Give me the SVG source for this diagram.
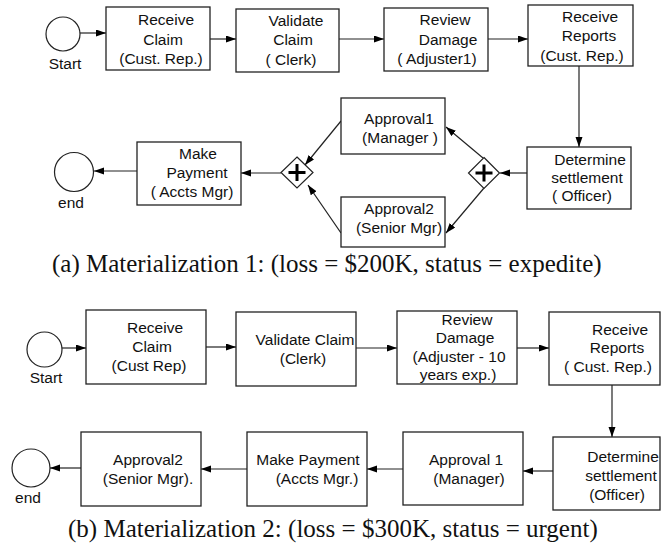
<svg xmlns="http://www.w3.org/2000/svg" width="662" height="546" viewBox="0 0 662 546">
<style>
.box{fill:#fff;stroke:#222;stroke-width:1.3}
.ev{fill:#fff;stroke:#222;stroke-width:1.2}
.gw{fill:#fff;stroke:#222;stroke-width:1.2}
.plus{stroke:#000;stroke-width:3;fill:none}
.t{font-family:"Liberation Sans",Arial,sans-serif;font-size:15.5px;fill:#111;text-anchor:middle}
.cap{font-family:"Liberation Serif","Times New Roman",serif;font-size:25px;fill:#111}
.c{stroke:#222;stroke-width:1.2;fill:none;marker-end:url(#ah)}
</style>
<defs>
<marker id="ah" markerUnits="userSpaceOnUse" markerWidth="11" markerHeight="8" refX="10" refY="3.5" orient="auto">
<path d="M0,0 L10,3.5 L0,7 z" fill="#000"/>
</marker>
</defs>

<g id="connectors">
<line class="c" x1="80" y1="33" x2="106" y2="33"/>
<line class="c" x1="210" y1="39" x2="236" y2="39"/>
<line class="c" x1="339" y1="39" x2="384" y2="39"/>
<line class="c" x1="488" y1="39" x2="528" y2="39"/>
<line class="c" x1="579" y1="66" x2="579" y2="147"/>
<line class="c" x1="527" y1="173" x2="500" y2="173"/>
<line class="c" x1="483" y1="158" x2="446" y2="127"/>
<line class="c" x1="484" y1="188" x2="446" y2="233"/>
<line class="c" x1="341" y1="121" x2="305" y2="165"/>
<line class="c" x1="341" y1="233" x2="308" y2="185"/>
<line class="c" x1="281" y1="173" x2="241" y2="173"/>
<line class="c" x1="137" y1="171" x2="94" y2="171"/>

<line class="c" x1="62" y1="348" x2="86" y2="348"/>
<line class="c" x1="206" y1="347" x2="236" y2="347"/>
<line class="c" x1="356" y1="348" x2="397" y2="348"/>
<line class="c" x1="517" y1="348" x2="549" y2="348"/>
<line class="c" x1="612" y1="385" x2="612" y2="437"/>
<line class="c" x1="553" y1="471" x2="523" y2="471"/>
<line class="c" x1="403" y1="469" x2="367" y2="469"/>
<line class="c" x1="247" y1="469" x2="201" y2="469"/>
<line class="c" x1="81" y1="468" x2="50" y2="468"/>
</g>

<g id="a-start"><circle class="ev" cx="63" cy="34" r="17"/><text class="t" x="65" y="69">Start</text></g>
<g id="a-receive-claim"><rect class="box" x="106" y="7" width="104" height="63"/>
<text class="t" x="166" y="25">Receive</text><text class="t" x="163" y="45">Claim</text><text class="t" x="161" y="64">(Cust. Rep.)</text></g>
<g id="a-validate-claim"><rect class="box" x="236" y="9" width="103" height="63"/>
<text class="t" x="296" y="26">Validate</text><text class="t" x="293" y="45">Claim</text><text class="t" x="291" y="65">( Clerk)</text></g>
<g id="a-review-damage"><rect class="box" x="384" y="8" width="104" height="63"/>
<text class="t" x="445" y="25">Review</text><text class="t" x="448" y="45">Damage</text><text class="t" x="437" y="64">( Adjuster1)</text></g>
<g id="a-receive-reports"><rect class="box" x="528" y="5" width="105" height="61"/>
<text class="t" x="590" y="22">Receive</text><text class="t" x="589" y="41">Reports</text><text class="t" x="582" y="61">(Cust. Rep.)</text></g>
<g id="a-determine"><rect class="box" x="527" y="147" width="104" height="62"/>
<text class="t" x="590" y="165">Determine</text><text class="t" x="587" y="183">settlement</text><text class="t" x="582" y="201">( Officer)</text></g>
<g id="a-gw-split"><path class="gw" d="M484,157.5 L499.5,173 L484,188.5 L468.5,173 z"/>
<path class="plus" d="M475.5,173 H492.5 M484,164.5 V181.5"/></g>
<g id="a-approval1"><rect class="box" x="341" y="98" width="104" height="56"/>
<text class="t" x="399" y="124">Approval1</text><text class="t" x="400" y="143">(Manager )</text></g>
<g id="a-approval2"><rect class="box" x="341" y="197" width="104" height="50"/>
<text class="t" x="399" y="214">Approval2</text><text class="t" x="399" y="233">(Senior Mgr)</text></g>
<g id="a-gw-join"><path class="gw" d="M297,157 L313,172.5 L297,188 L281,172.5 z"/>
<path class="plus" d="M288.5,172.5 H305.5 M297,164 V181"/></g>
<g id="a-make-payment"><rect class="box" x="137" y="142" width="104" height="63"/>
<text class="t" x="198" y="159">Make</text><text class="t" x="197" y="178">Payment</text><text class="t" x="192" y="197">( Accts Mgr)</text></g>
<g id="a-end"><circle class="ev" cx="74" cy="172" r="19.5"/><text class="t" x="71" y="208">end</text></g>

<text class="cap" x="52" y="272">(a) Materialization 1: (loss = $200K, status = expedite)</text>

<g id="b-start"><circle class="ev" cx="44.5" cy="349.5" r="17.5"/><text class="t" x="46" y="383">Start</text></g>
<g id="b-receive-claim"><rect class="box" x="86" y="310" width="120" height="74"/>
<text class="t" x="155" y="333">Receive</text><text class="t" x="152" y="352">Claim</text><text class="t" x="149" y="371">(Cust Rep)</text></g>
<g id="b-validate-claim"><rect class="box" x="236" y="312" width="120" height="74"/>
<text class="t" x="305" y="345">Validate Claim</text><text class="t" x="303" y="364">(Clerk)</text></g>
<g id="b-review-damage"><rect class="box" x="397" y="311" width="120" height="73"/>
<text class="t" x="467" y="325">Review</text><text class="t" x="465" y="343">Damage</text><text class="t" x="459" y="362">(Adjuster - 10</text><text class="t" x="458" y="380">years exp.)</text></g>
<g id="b-receive-reports"><rect class="box" x="549" y="312" width="111" height="73"/>
<text class="t" x="620" y="335">Receive</text><text class="t" x="617" y="353">Reports</text><text class="t" x="608" y="372">( Cust. Rep.)</text></g>
<g id="b-determine"><rect class="box" x="553" y="437" width="107" height="73"/>
<text class="t" x="623" y="462">Determine</text><text class="t" x="621" y="481">settlement</text><text class="t" x="617" y="500">(Officer)</text></g>
<g id="b-approval1"><rect class="box" x="403" y="432" width="120" height="73"/>
<text class="t" x="466" y="465">Approval 1</text><text class="t" x="469" y="484">(Manager)</text></g>
<g id="b-make-payment"><rect class="box" x="247" y="432" width="120" height="74"/>
<text class="t" x="308" y="465">Make Payment</text><text class="t" x="317" y="484">(Accts Mgr.)</text></g>
<g id="b-approval2"><rect class="box" x="81" y="432" width="120" height="74"/>
<text class="t" x="148" y="465">Approval2</text><text class="t" x="148" y="484">(Senior Mgr).</text></g>
<g id="b-end"><circle class="ev" cx="31" cy="468" r="19"/><text class="t" x="28" y="503">end</text></g>

<text class="cap" x="68" y="537">(b) Materialization 2: (loss = $300K, status = urgent)</text>
</svg>
